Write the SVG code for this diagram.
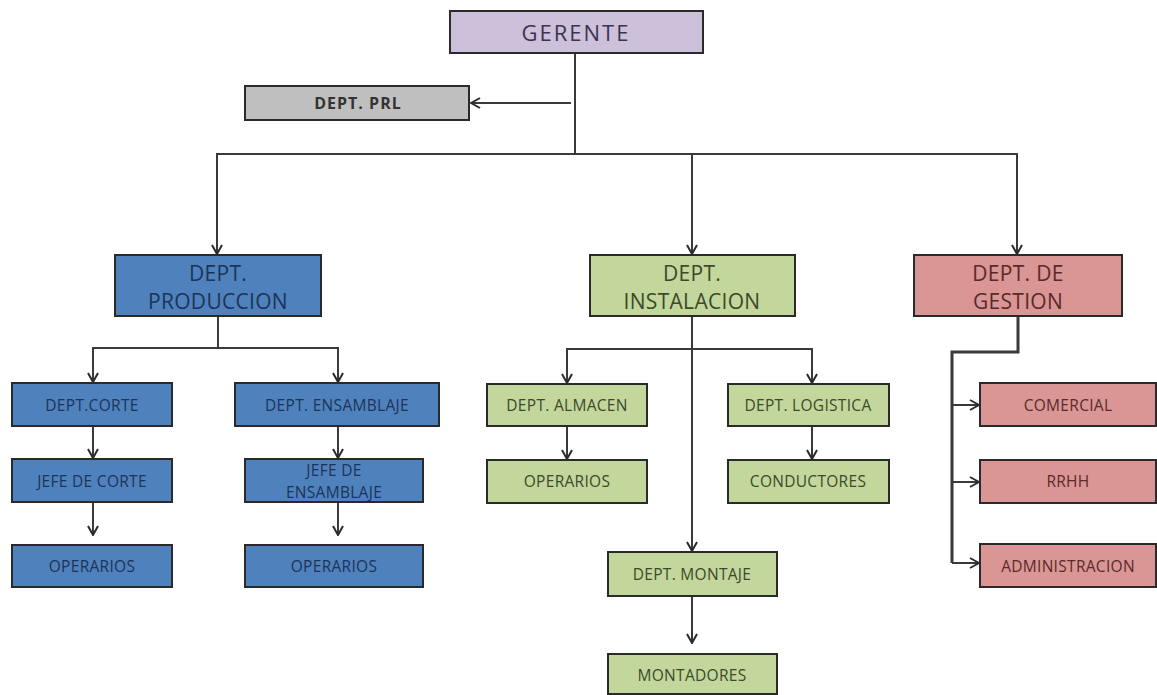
<svg xmlns="http://www.w3.org/2000/svg" width="1157" height="695" viewBox="0 0 1157 695">
<defs>
<marker id="arr" viewBox="0 0 12 12" refX="11" refY="6" markerWidth="12" markerHeight="12" markerUnits="userSpaceOnUse" orient="auto">
<polyline points="2,1 11,6 2,11" fill="none" stroke="#2b2b2b" stroke-width="2"/>
</marker>
</defs>
<style>
.box{stroke:#2a2a2a;stroke-width:2}
.pu{fill:#ccc0da}.gr{fill:#bfbfbf}.bl{fill:#4f81bd}.gn{fill:#c3d69b}.rd{fill:#d99694}
text{font-family:"Open Sans","Liberation Sans",sans-serif;text-anchor:middle;dominant-baseline:central}
.tb{fill:#1c3457}.tg{fill:#3a4a2a}.tr{fill:#5a2a2a}.tp{fill:#3a3450}.tgy{fill:#333}
.big{font-size:21px;letter-spacing:0.3px}.sm{font-size:15.5px;letter-spacing:0.3px}
#connectors path,#connectors line{fill:none;stroke:#3a3a3a;stroke-width:2}
</style>
<g id="connectors">
<line x1="575" y1="53" x2="575" y2="154"/>
<line x1="571" y1="103" x2="471" y2="103" marker-end="url(#arr)"/>
<line x1="216" y1="154" x2="1018" y2="154"/>
<line x1="217" y1="154" x2="217" y2="254" marker-end="url(#arr)"/>
<line x1="692" y1="154" x2="692" y2="254" marker-end="url(#arr)"/>
<line x1="1017" y1="154" x2="1017" y2="254" marker-end="url(#arr)"/>
<path d="M218 316 V348 M93 348 H338"/>
<line x1="93" y1="347" x2="93" y2="382" marker-end="url(#arr)"/>
<line x1="338" y1="347" x2="338" y2="382" marker-end="url(#arr)"/>
<line x1="93" y1="426" x2="93" y2="458" marker-end="url(#arr)"/>
<line x1="338" y1="426" x2="338" y2="458" marker-end="url(#arr)"/>
<line x1="93" y1="502" x2="93" y2="535" marker-end="url(#arr)"/>
<line x1="338" y1="502" x2="338" y2="535" marker-end="url(#arr)"/>
<line x1="692" y1="316" x2="692" y2="551" marker-end="url(#arr)"/>
<path d="M567 349 H812"/>
<line x1="567" y1="348" x2="567" y2="383" marker-end="url(#arr)"/>
<line x1="812" y1="348" x2="812" y2="383" marker-end="url(#arr)"/>
<line x1="567" y1="426" x2="567" y2="459" marker-end="url(#arr)"/>
<line x1="812" y1="426" x2="812" y2="459" marker-end="url(#arr)"/>
<line x1="692" y1="596" x2="692" y2="643" marker-end="url(#arr)"/>
<path d="M1018 316 V352 H952 V563" style="stroke-width:3"/>
<line x1="952" y1="405" x2="979" y2="405" marker-end="url(#arr)"/>
<line x1="952" y1="482" x2="979" y2="482" marker-end="url(#arr)"/>
<line x1="952" y1="563" x2="979" y2="563" marker-end="url(#arr)"/>
</g>
<g id="gerente"><rect class="box pu" x="450" y="11" width="253" height="42"/><text class="tp" x="576" y="32" font-size="22" letter-spacing="2">GERENTE</text></g>
<g id="prl"><rect class="box gr" x="245" y="86" width="224" height="34"/><text class="tgy" x="358" y="103" font-size="16" font-weight="bold" letter-spacing="1">DEPT.  PRL</text></g>
<g id="produccion"><rect class="box bl" x="115" y="255" width="206" height="61"/><text class="tb big" x="218" y="273">DEPT.</text><text class="tb big" x="218" y="301">PRODUCCION</text></g>
<g id="instalacion"><rect class="box gn" x="590" y="255" width="205" height="61"/><text class="tg big" x="692" y="273">DEPT.</text><text class="tg big" x="692" y="301">INSTALACION</text></g>
<g id="gestion"><rect class="box rd" x="914" y="255" width="208" height="61"/><text class="tr big" x="1018" y="273">DEPT. DE</text><text class="tr big" x="1018" y="301">GESTION</text></g>
<g id="corte"><rect class="box bl" x="12" y="383" width="160" height="43"/><text class="tb sm" x="92" y="405">DEPT.CORTE</text></g>
<g id="ensamblaje"><rect class="box bl" x="235" y="383" width="204" height="43"/><text class="tb sm" x="337" y="405">DEPT. ENSAMBLAJE</text></g>
<g id="jefe-corte"><rect class="box bl" x="12" y="459" width="160" height="43"/><text class="tb sm" x="92" y="481">JEFE DE CORTE</text></g>
<g id="jefe-ensamblaje"><rect class="box bl" x="245" y="459" width="178" height="43"/><text class="tb sm" x="334" y="470">JEFE DE</text><text class="tb sm" x="334" y="492">ENSAMBLAJE</text></g>
<g id="operarios-corte"><rect class="box bl" x="12" y="545" width="160" height="42"/><text class="tb sm" x="92" y="566">OPERARIOS</text></g>
<g id="operarios-ensamblaje"><rect class="box bl" x="245" y="545" width="178" height="42"/><text class="tb sm" x="334" y="566">OPERARIOS</text></g>
<g id="almacen"><rect class="box gn" x="487" y="384" width="160" height="42"/><text class="tg sm" x="567" y="405">DEPT. ALMACEN</text></g>
<g id="logistica"><rect class="box gn" x="728" y="384" width="161" height="42"/><text class="tg sm" x="808" y="405">DEPT. LOGISTICA</text></g>
<g id="operarios-almacen"><rect class="box gn" x="487" y="460" width="160" height="43"/><text class="tg sm" x="567" y="481">OPERARIOS</text></g>
<g id="conductores"><rect class="box gn" x="728" y="460" width="161" height="43"/><text class="tg sm" x="808" y="481">CONDUCTORES</text></g>
<g id="montaje"><rect class="box gn" x="608" y="552" width="169" height="44"/><text class="tg sm" x="692" y="574">DEPT. MONTAJE</text></g>
<g id="montadores"><rect class="box gn" x="608" y="654" width="169" height="40"/><text class="tg sm" x="692" y="675">MONTADORES</text></g>
<g id="comercial"><rect class="box rd" x="980" y="383" width="176" height="43"/><text class="tr sm" x="1068" y="405">COMERCIAL</text></g>
<g id="rrhh"><rect class="box rd" x="980" y="460" width="176" height="43"/><text class="tr sm" x="1068" y="481">RRHH</text></g>
<g id="administracion"><rect class="box rd" x="980" y="544" width="176" height="43"/><text class="tr sm" x="1068" y="566">ADMINISTRACION</text></g>
</svg>
